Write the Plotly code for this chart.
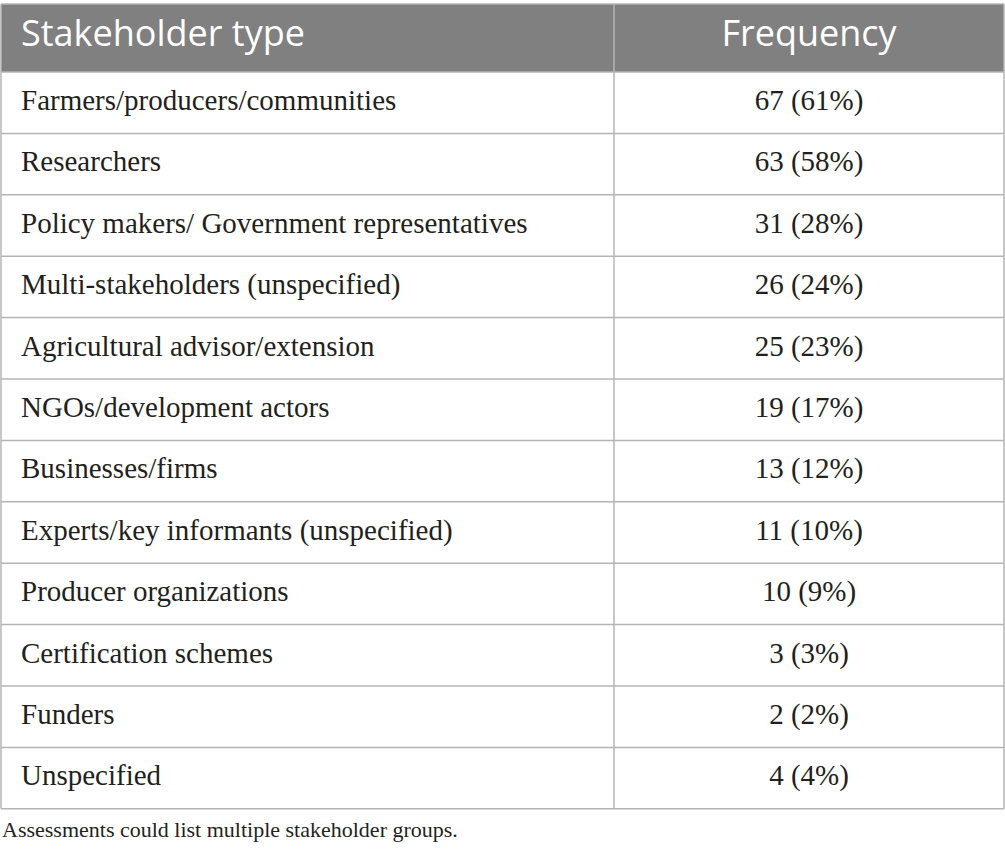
import plotly.graph_objects as go

headers = ["Stakeholder type", "Frequency"]
stakeholders = [
    "Farmers/producers/communities",
    "Researchers",
    "Policy makers/ Government representatives",
    "Multi-stakeholders (unspecified)",
    "Agricultural advisor/extension",
    "NGOs/development actors",
    "Businesses/firms",
    "Experts/key informants (unspecified)",
    "Producer organizations",
    "Certification schemes",
    "Funders",
    "Unspecified",
]
counts = [67, 63, 31, 26, 25, 19, 13, 11, 10, 3, 2, 4]
percents = [61, 58, 28, 24, 23, 17, 12, 10, 9, 3, 2, 4]
footnote = "Assessments could list multiple stakeholder groups."

freq_text = [f"{c} ({p}%)" for c, p in zip(counts, percents)]

# page layout in pixels
W, H = 1005, 861
LEFT, RIGHT, SPLIT = 1, 1004, 614
TOP, HEAD_H, ROW_H = 4, 68, 61.4
PAD = 20
GRID = "#b4b4b4"
HEAD_BG = "#808080"
INK = "#231f20"

n = len(stakeholders)
body_top = TOP + HEAD_H
bottom = body_top + n * ROW_H
row_mid = [body_top + (i + 0.5) * ROW_H for i in range(n)]

fig = go.Figure()

# header band + grid
fig.add_shape(type="rect", x0=LEFT, x1=RIGHT, y0=TOP, y1=body_top,
              fillcolor=HEAD_BG, line_width=0, layer="below")
for i in range(n + 2):
    y = TOP if i == 0 else body_top + (i - 1) * ROW_H
    fig.add_shape(type="line", x0=LEFT, x1=RIGHT, y0=y, y1=y,
                  line=dict(color=GRID, width=1.5))
for x in (LEFT, SPLIT, RIGHT):
    fig.add_shape(type="line", x0=x, x1=x, y0=TOP, y1=bottom,
                  line=dict(color=GRID, width=1.5))

# header text
fig.add_trace(go.Scatter(
    x=[LEFT + PAD, (SPLIT + RIGHT) / 2], y=[TOP + 33, TOP + 33],
    text=headers, mode="text", textposition=["middle right", "middle center"],
    textfont=dict(family="Open Sans", size=36, color="white"),
    hoverinfo="skip", showlegend=False,
))

# body text
fig.add_trace(go.Scatter(
    x=[LEFT + PAD] * n, y=row_mid, text=stakeholders, mode="text",
    textposition="middle right",
    textfont=dict(family="Liberation Serif", size=29, color=INK),
    hoverinfo="skip", showlegend=False,
))
fig.add_trace(go.Scatter(
    x=[(SPLIT + RIGHT) / 2] * n, y=row_mid, text=freq_text, mode="text",
    textposition="middle center",
    textfont=dict(family="Liberation Serif", size=29, color=INK),
    hoverinfo="skip", showlegend=False,
))

fig.add_annotation(
    text=footnote, x=0, y=bottom + 21, xref="x", yref="y",
    xanchor="left", yanchor="middle", showarrow=False,
    font=dict(family="Liberation Serif", size=22, color=INK),
)

fig.update_xaxes(range=[0, W], visible=False, fixedrange=True)
fig.update_yaxes(range=[H, 0], visible=False, fixedrange=True)
fig.update_layout(
    width=W, height=H,
    margin=dict(l=0, r=0, t=0, b=0),
    paper_bgcolor="white", plot_bgcolor="white",
)
fig.write_html("out.html", config={"displayModeBar": False},
               post_script="document.body.style.margin='0px';")
